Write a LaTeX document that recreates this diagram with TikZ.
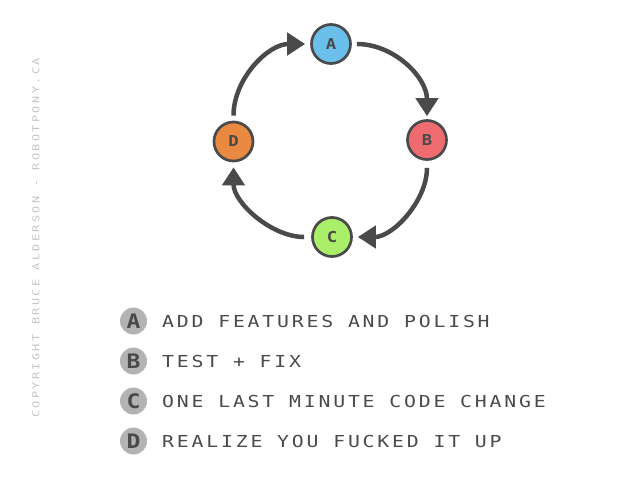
\documentclass[tikz,border=0pt]{standalone}
\usepackage{fontspec}
\usetikzlibrary{arrows.meta}
\newfontfamily\pix[LetterSpace=17,FakeStretch=1.2]{DejaVu Sans Mono}
\newfontfamily\pixb[FakeStretch=1.15]{DejaVu Sans Mono Bold}
\newfontfamily\pixs[LetterSpace=25,FakeStretch=1.25]{DejaVu Sans Mono}
\definecolor{ink}{HTML}{4A4A4A}
\definecolor{cA}{HTML}{6BBFEB}
\definecolor{cB}{HTML}{EE6C70}
\definecolor{cC}{HTML}{AAEE6A}
\definecolor{cD}{HTML}{EA8A42}
\definecolor{lg}{HTML}{B3B3B3}
\definecolor{cp}{HTML}{C4C4C4}
\tikzset{
  stage/.style={circle,draw=ink,line width=2.7pt,minimum size=39pt,inner sep=0pt,text=ink,font=\pixb\fontsize{15}{15}\selectfont},
  flow/.style={draw=ink,line width=4.5pt,-{Triangle[width=22pt,length=18pt]}},
  badge/.style={circle,fill=lg,minimum size=27pt,inner sep=0pt,text=ink,font=\pixb\fontsize{20}{20}\selectfont},
  legtext/.style={anchor=west,inner sep=0pt,text=ink,font=\pix\fontsize{16.5}{16.5}\selectfont}
}
\begin{document}
\begin{tikzpicture}[x=1pt,y=-1pt]
\useasboundingbox (0,0) rectangle (640,480);
\node[stage,fill=cA] (A) at (331,44) {A};
\node[stage,fill=cB] (B) at (427,140) {B};
\node[stage,fill=cC] (C) at (332,237) {C};
\node[stage,fill=cD] (D) at (233.5,141.5) {D};
\draw[flow,shorten <=5pt,shorten >=3pt] (A.east) .. controls +(42,0) and +(0,-42) .. (B.north);
\draw[flow,shorten <=7pt,shorten >=5pt] (B.south) .. controls +(0,40) and +(40,0) .. (C.east);
\draw[flow,shorten <=7pt,shorten >=5pt] (C.west) .. controls +(-40,0) and +(0,40) .. (D.south);
\draw[flow,shorten <=5pt,shorten >=5pt] (D.north) .. controls +(0,-42) and +(-42,0) .. (A.west);
\foreach \k/\t [count=\i] in {A/ADD FEATURES AND POLISH,B/TEST + FIX,C/ONE LAST MINUTE CODE CHANGE,D/REALIZE YOU FUCKED IT UP}{
  \node[badge] (L\k) at (133.5,281+40*\i) {\k};
  \node[legtext] (T\k) at (162,281+40*\i) {\t};
}
\node[rotate=90,text=cp,inner sep=0pt,font=\pixs\fontsize{9.5}{9.5}\selectfont] (copy) at (36,238) {COPYRIGHT BRUCE ALDERSON - ROBOTPONY.CA};
\end{tikzpicture}
\end{document}
